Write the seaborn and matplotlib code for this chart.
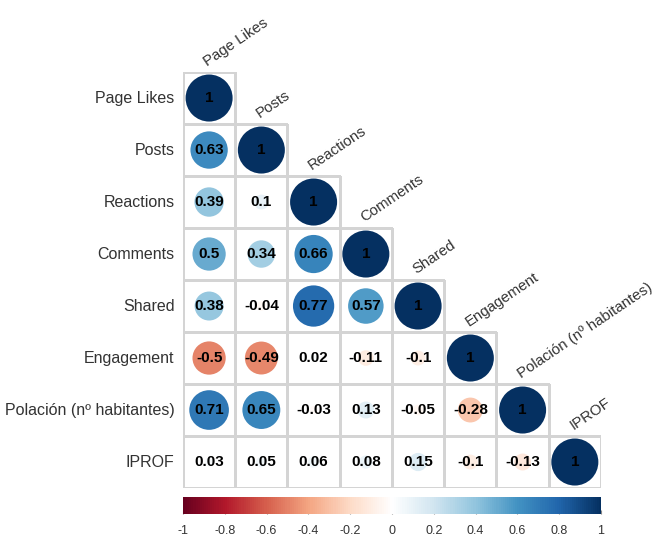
import numpy as np
import pandas as pd
import matplotlib
matplotlib.use("Agg")
import matplotlib.pyplot as plt
from matplotlib.colors import LinearSegmentedColormap, ListedColormap, Normalize
import matplotlib.cm as cm
import seaborn as sns

# ---- data ----
variables = ["Page Likes", "Posts", "Reactions", "Comments", "Shared",
             "Engagement", "Polación (nº habitantes)", "IPROF"]
row_page_likes = [1]
row_posts = [0.63, 1]
row_reactions = [0.39, 0.1, 1]
row_comments = [0.5, 0.34, 0.66, 1]
row_shared = [0.38, -0.04, 0.77, 0.57, 1]
row_engagement = [-0.5, -0.49, 0.02, -0.11, -0.1, 1]
row_poblacion = [0.71, 0.65, -0.03, 0.13, -0.05, -0.28, 1]
row_iprof = [0.03, 0.05, 0.06, 0.08, 0.15, -0.1, -0.13, 1]
colorbar_ticks = [-1, -0.8, -0.6, -0.4, -0.2, 0, 0.2, 0.4, 0.6, 0.8, 1]

rows = [row_page_likes, row_posts, row_reactions, row_comments,
        row_shared, row_engagement, row_poblacion, row_iprof]
n = len(variables)
mat = np.full((n, n), np.nan)
for i, r in enumerate(rows):
    for j, v in enumerate(r):
        mat[i, j] = v
        mat[j, i] = v
corr = pd.DataFrame(mat, index=variables, columns=variables)
mask = np.triu(np.ones((n, n), dtype=bool), k=1)

labels = np.empty((n, n), dtype=object)
for i in range(n):
    for j in range(n):
        labels[i, j] = f"{mat[i, j]:g}"

# corrplot RdBu palette
cmap = LinearSegmentedColormap.from_list(
    "corr_rdbu",
    ["#67001F", "#B2182B", "#D6604D", "#F4A582", "#FDDBC7", "#FFFFFF",
     "#D1E5F0", "#92C5DE", "#4393C3", "#2166AC", "#053061"], N=200)
norm = Normalize(-1, 1)

sns.set_style("white")
plt.rcParams["font.family"] = ["Liberation Sans", "DejaVu Sans"]

fig = plt.figure(figsize=(6.62, 5.38), dpi=100)
ax = fig.add_axes([0.2764, 0.0929, 0.6314, 0.7732])

sns.heatmap(corr, mask=mask, cmap=ListedColormap(["white"]), cbar=False,
            linewidths=0.8, linecolor="#d4d4d4", annot=False, ax=ax,
            square=False)
# only draw cell borders for the visible (lower) triangle
mesh = ax.collections[0]
edge_cols = [(0, 0, 0, 0) if mask[i, j] else (0.83, 0.83, 0.83, 1)
             for i in range(n) for j in range(n)]
mesh.set_edgecolors(edge_cols)

# circles
long = []
for i in range(n):
    for j in range(i + 1):
        long.append({"x": j + 0.5, "y": i + 0.5, "r": mat[i, j],
                     "absr": abs(mat[i, j])})
df = pd.DataFrame(long)
cell_pt = 0.6314 * 6.62 * 72 / n
dmax = 0.9 * cell_pt
sns.scatterplot(data=df, x="x", y="y", hue="r", palette=cmap, hue_norm=norm,
                size="absr", sizes=(0, dmax ** 2), size_norm=(0, 1),
                linewidth=0, legend=False, ax=ax, zorder=2)

# numbers
for i in range(n):
    for j in range(i + 1):
        ax.text(j + 0.5, i + 0.5, labels[i, j], ha="center", va="center",
                fontsize=11, fontweight="bold", color="black", zorder=3)

ax.set_xlim(0, n)
ax.set_ylim(n, 0)
ax.set_xlabel("")
ax.set_ylabel("")
ax.set_xticks([])
ax.set_yticks(np.arange(n) + 0.5)
ax.set_yticklabels(variables, rotation=0, fontsize=11.5, color="#333333")
ax.tick_params(axis="y", length=0, pad=6)
for s in ax.spines.values():
    s.set_visible(False)

# column labels
for j, name in enumerate(variables):
    ax.text(j + 0.5, j - 0.06, name, rotation=34, rotation_mode="anchor",
            ha="left", va="bottom", fontsize=10.8, color="#333333",
            clip_on=False)

# colorbar
cax = fig.add_axes([0.2764, 0.0446, 0.6314, 0.0316])
sm = cm.ScalarMappable(norm=norm, cmap=cmap)
cb = fig.colorbar(sm, cax=cax, orientation="horizontal")
cb.outline.set_visible(False)
cb.set_ticks(colorbar_ticks)
cb.set_ticklabels([f"{t:g}" for t in colorbar_ticks])
cax.tick_params(axis="x", direction="in", length=3, color="#888888",
                labelsize=9, labelcolor="#333333", pad=8)

fig.savefig("out.png", dpi=100)
